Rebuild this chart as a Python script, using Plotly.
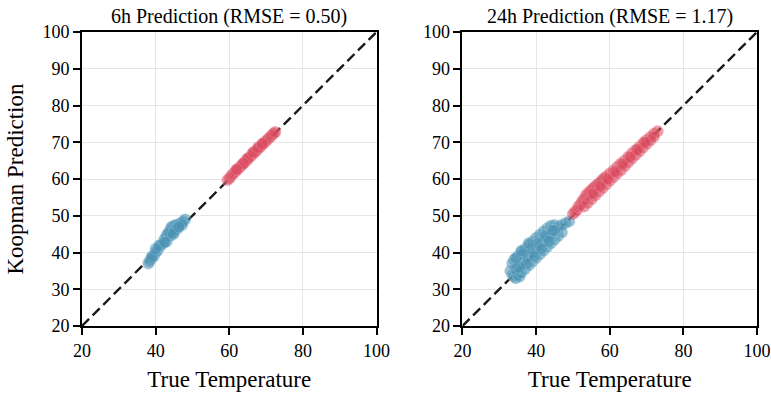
import plotly.graph_objects as go
from plotly.subplots import make_subplots

# ---- data ----
titles = ["6h Prediction (RMSE = 0.50)", "24h Prediction (RMSE = 1.17)"]
x_ticks = [20, 40, 60, 80, 100]
y_ticks = [20, 30, 40, 50, 60, 70, 80, 90, 100]

# 6h, cold group
h6_blue_true = [38.0, 38.3, 38.6, 39.0, 39.5, 40.0, 40.5, 41.0, 41.5, 42.0, 42.3, 42.7, 43.0, 43.2,
                43.5, 44.0, 44.2, 44.5, 45.0, 45.5, 46.0, 46.5, 47.0, 47.5, 48.0, 43.0, 44.0, 45.0,
                46.0, 41.0, 39.0, 40.0, 43.8, 45.3, 47.2, 42.5, 44.8, 46.3]
h6_blue_pred = [37.0, 37.5, 38.0, 38.5, 39.0, 40.0, 40.5, 41.5, 42.0, 42.5, 43.5, 44.0, 44.5, 45.0,
                45.5, 46.0, 46.8, 47.0, 47.3, 47.5, 47.5, 47.8, 48.0, 48.5, 49.0, 43.0, 44.5, 45.5,
                46.5, 42.0, 39.0, 41.0, 45.3, 46.2, 47.5, 42.8, 45.0, 47.0]
# 6h, warm group
h6_red_true = [59.5, 60.0, 60.4, 60.8, 61.3, 61.7, 62.2, 62.6, 63.1, 63.5, 64.0, 64.4, 64.9, 65.3,
               65.8, 66.2, 66.7, 67.1, 67.6, 68.0, 68.5, 68.9, 69.4, 69.8, 70.3, 70.7, 71.2, 71.6,
               72.1, 72.5, 65.0, 66.5, 67.8, 69.0, 63.8, 62.0]
h6_red_pred = [59.7, 60.1, 60.6, 61.2, 61.6, 62.1, 62.5, 63.0, 63.4, 63.9, 64.3, 64.9, 65.2, 65.8,
               66.1, 66.7, 67.0, 67.5, 67.9, 68.4, 68.8, 69.3, 69.7, 70.2, 70.6, 71.1, 71.5, 72.0,
               72.4, 72.8, 65.6, 67.3, 68.6, 69.6, 64.2, 62.6]

# 24h, cold group
h24_blue_true = [33.0, 33.5, 34.0, 34.5, 35.0, 35.5, 34.0, 35.0, 36.0, 37.0, 38.0, 39.0, 40.0, 41.0,
                 42.0, 43.0, 44.0, 45.0, 46.0, 47.0, 48.0, 49.0, 36.0, 37.0, 38.0, 39.0, 40.0, 41.0,
                 42.0, 43.0, 44.0, 45.0, 46.0, 47.0, 35.0, 36.0, 37.0, 38.0, 39.0, 40.0, 41.0, 42.0,
                 43.0, 44.0, 45.0, 36.5, 38.5, 40.5, 42.5, 44.5, 37.5, 39.5, 41.5, 43.5, 34.5, 35.5,
                 33.5, 34.5, 36.0, 38.0]
h24_blue_pred = [35.0, 34.0, 33.5, 33.0, 34.0, 33.5, 38.0, 39.0, 40.0, 41.0, 42.0, 43.0, 44.0, 44.8,
                 45.7, 46.6, 47.3, 47.5, 47.0, 47.5, 48.0, 48.5, 34.5, 35.5, 36.5, 37.5, 38.5, 39.5,
                 40.5, 41.5, 42.5, 43.5, 44.5, 45.5, 36.0, 37.0, 38.0, 39.0, 40.0, 41.0, 42.0, 43.0,
                 44.0, 45.0, 46.0, 39.5, 41.0, 42.5, 44.5, 46.0, 37.0, 39.0, 41.0, 43.0, 35.5, 36.0,
                 37.0, 38.5, 40.5, 42.5]
# 24h, warm group
h24_red_true = [50.0, 50.5, 51.0, 51.5, 52.0, 52.5, 53.0, 53.5, 54.0, 54.5, 55.0, 55.5, 56.0, 56.5,
                57.0, 57.5, 58.0, 58.5, 59.0, 60.0, 61.0, 62.0, 63.0, 64.0, 65.0, 66.0, 67.0, 68.0,
                69.0, 70.0, 71.0, 72.0, 73.0, 53.0, 54.0, 55.0, 56.0, 57.0, 58.0, 59.0, 60.0, 61.0,
                62.0, 63.0, 64.0, 65.0, 66.0, 67.0, 68.0, 69.0, 70.0, 71.0, 72.0, 55.5, 57.5, 59.5,
                61.5, 63.5, 65.5, 67.5, 69.5]
h24_red_pred = [50.5, 51.0, 51.5, 52.5, 53.0, 54.0, 54.5, 55.5, 56.0, 56.5, 57.0, 57.5, 58.0, 58.3,
                58.8, 59.2, 59.8, 60.2, 60.6, 61.5, 62.3, 63.3, 64.2, 65.0, 66.0, 67.0, 67.8, 68.7,
                69.7, 70.6, 71.4, 72.3, 73.0, 52.5, 53.5, 54.5, 55.5, 56.5, 57.5, 58.5, 59.5, 60.5,
                61.5, 62.4, 63.5, 64.5, 65.5, 66.5, 67.5, 68.5, 69.5, 70.5, 71.5, 56.0, 58.0, 60.0,
                62.0, 64.0, 66.0, 68.0, 70.0]

BLUE = "#4A93B5"
RED = "#DC4B60"
FONT = "Liberation Serif"

fig = make_subplots(rows=1, cols=2, subplot_titles=titles, horizontal_spacing=0.1274)

panels = [
    (h6_blue_true, h6_blue_pred, h6_red_true, h6_red_pred),
    (h24_blue_true, h24_blue_pred, h24_red_true, h24_red_pred),
]
for i, (bt, bp, rt, rp) in enumerate(panels, start=1):
    fig.add_trace(go.Scatter(x=[20, 100], y=[20, 100], mode="lines",
                             line=dict(color="#1a1a1a", width=2.4, dash="10px,5px"),
                             showlegend=False, hoverinfo="skip"), row=1, col=i)
    for xs, ys, c in [(bt, bp, BLUE), (rt, rp, RED)]:
        fig.add_trace(go.Scatter(x=xs, y=ys, mode="markers",
                                 marker=dict(color=c, size=12, opacity=0.55,
                                             line=dict(color="rgba(255,255,255,0.5)", width=0.6)),
                                 showlegend=False), row=1, col=i)

axis_common = dict(range=[20, 100], showline=True, linecolor="black",
                   linewidth=2, mirror=True, ticks="outside", ticklen=7, tickwidth=1.8,
                   tickcolor="black", showgrid=True, gridcolor="#e6e6e6", gridwidth=1,
                   zeroline=False, automargin=False,
                   tickfont=dict(family=FONT, size=18, color="black"))
for i in (1, 2):
    fig.update_xaxes(axis_common, tickvals=x_ticks, row=1, col=i,
                     title=dict(text="True Temperature", font=dict(family=FONT, size=23, color="black"),
                                standoff=11))
    fig.update_yaxes(axis_common, tickvals=y_ticks, row=1, col=i)
fig.update_yaxes(title=dict(text="Koopman Prediction", font=dict(family=FONT, size=23, color="black"),
                            standoff=12), row=1, col=1)

for a in fig.layout.annotations:
    a.font = dict(family=FONT, size=20, color="black")
    a.yshift = 2

fig.update_layout(width=771, height=397, margin=dict(l=82, r=14, t=32, b=71),
                  plot_bgcolor="white", paper_bgcolor="white",
                  font=dict(family=FONT, color="black"))

fig.write_html("out.html")
